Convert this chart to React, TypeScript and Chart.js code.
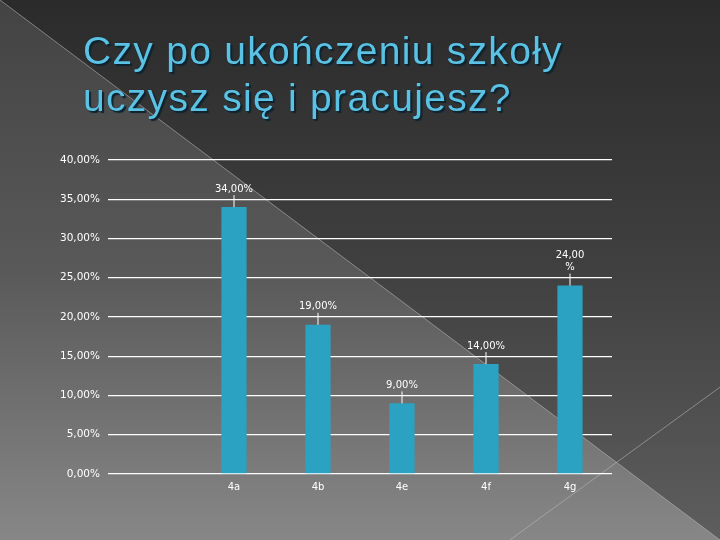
import React, { useEffect, useRef } from 'react';
import { Chart, registerables } from 'chart.js';

Chart.register(...registerables);

// first slot is empty in the original slide
const classes = ['', '4a', '4b', '4e', '4f', '4g'];
const shares: (number | null)[] = [null, 34, 19, 9, 14, 24];
const yMin = 0;
const yMax = 40;
const yStep = 5;
const titleLines = ['Czy po ukończeniu szkoły', 'uczysz się i pracujesz?'];

const fmt = (v: number) => v.toFixed(2).replace('.', ',') + '%';

const slideBackground = {
    id: 'slideBackground',
    beforeDraw(chart: Chart) {
        const { ctx, width, height } = chart;
        ctx.save();
        // upper-right triangle (darker)
        const dark = ctx.createLinearGradient(0, 0, 0, height);
        dark.addColorStop(0, '#2b2b2b');
        dark.addColorStop(0.5, '#404040');
        dark.addColorStop(1, '#5e5e5e');
        ctx.fillStyle = dark;
        ctx.fillRect(0, 0, width, height);
        // lower-left triangle (lighter)
        const light = ctx.createLinearGradient(0, 0, 0, height);
        light.addColorStop(0, '#434343');
        light.addColorStop(0.5, '#595959');
        light.addColorStop(1, '#878787');
        ctx.fillStyle = light;
        ctx.beginPath();
        ctx.moveTo(0, 0);
        ctx.lineTo(width, height);
        ctx.lineTo(0, height);
        ctx.closePath();
        ctx.fill();
        // thin decorative lines
        ctx.strokeStyle = 'rgba(190,190,190,0.55)';
        ctx.lineWidth = 1;
        ctx.beginPath();
        ctx.moveTo(0, 0);
        ctx.lineTo(width, height);
        ctx.moveTo(width * 0.708, height);
        ctx.lineTo(width, height * 0.717);
        ctx.stroke();
        ctx.restore();
    },
};

const barLabels = {
    id: 'barLabels',
    afterDatasetsDraw(chart: Chart) {
        const { ctx } = chart;
        const meta = chart.getDatasetMeta(0);
        ctx.save();
        ctx.fillStyle = '#ffffff';
        ctx.strokeStyle = '#ffffff';
        ctx.lineWidth = 1;
        ctx.font = '10px "DejaVu Sans"';
        ctx.textAlign = 'center';
        ctx.textBaseline = 'bottom';
        meta.data.forEach((bar: any, i: number) => {
            const v = shares[i];
            if (v == null) return;
            const { x, y } = bar.getProps(['x', 'y'], true);
            ctx.beginPath();
            ctx.moveTo(x, y);
            ctx.lineTo(x, y - 12);
            ctx.stroke();
            const text = fmt(v);
            // the last label wraps in the original slide
            const lines = i === shares.length - 1 ? [text.slice(0, -1), '%'] : [text];
            lines
                .slice()
                .reverse()
                .forEach((line, k) => ctx.fillText(line, x, y - 13 - k * 12));
        });
        ctx.restore();
    },
};

const SurveyChart: React.FC = () => {
    const canvasRef = useRef<HTMLCanvasElement | null>(null);
    const chartRef = useRef<Chart | null>(null);

    useEffect(() => {
        if (!canvasRef.current) return;
        if (chartRef.current) chartRef.current.destroy();

        chartRef.current = new Chart(canvasRef.current, {
            type: 'bar',
            data: {
                labels: classes,
                datasets: [
                    {
                        label: 'Seria 1',
                        data: shares,
                        backgroundColor: '#2ca2c2',
                        borderWidth: 0,
                        barPercentage: 0.3,
                        categoryPercentage: 1,
                    },
                ],
            },
            options: {
                animation: false,
                responsive: true,
                maintainAspectRatio: false,
                layout: { padding: { top: 160, right: 108, bottom: 0, left: 0 } },
                plugins: {
                    legend: { display: false },
                    tooltip: { enabled: false },
                    title: { display: false },
                },
                scales: {
                    x: {
                        grid: { display: false, drawTicks: false },
                        border: { display: false },
                        ticks: {
                            color: '#ffffff',
                            font: { family: 'DejaVu Sans', size: 10 },
                            padding: 7,
                        },
                        afterFit(scale: any) {
                            scale.height = 66;
                        },
                    },
                    y: {
                        min: yMin,
                        max: yMax,
                        grid: { color: '#ffffff', lineWidth: 1.3, drawTicks: false },
                        border: { display: false },
                        ticks: {
                            stepSize: yStep,
                            color: '#ffffff',
                            font: { family: 'DejaVu Sans', size: 10.5 },
                            padding: 8,
                            callback: (v: any) => fmt(Number(v)),
                        },
                        afterFit(scale: any) {
                            scale.width = 108;
                        },
                    },
                },
            },
            plugins: [slideBackground, barLabels],
        });

        return () => {
            if (chartRef.current) {
                chartRef.current.destroy();
                chartRef.current = null;
            }
        };
    }, []);

    return <canvas ref={canvasRef}></canvas>;
};

export default function App() {
    return (
        <div style={{ position: 'fixed', left: 0, top: 0, width: 720, height: 540, overflow: 'hidden' }}>
            <SurveyChart />
            <div
                style={{
                    position: 'absolute',
                    left: 83,
                    top: 27,
                    fontFamily: '"Liberation Sans", Arial, sans-serif',
                    fontSize: 39,
                    lineHeight: '47px',
                    letterSpacing: '1.3px',
                    color: '#5bc2e4',
                    textShadow: '2px 2px 1px #0d2430, 0 0 1px #123',
                    whiteSpace: 'nowrap',
                }}
            >
                {titleLines.map((line) => (
                    <div key={line}>{line}</div>
                ))}
            </div>
        </div>
    );
}
